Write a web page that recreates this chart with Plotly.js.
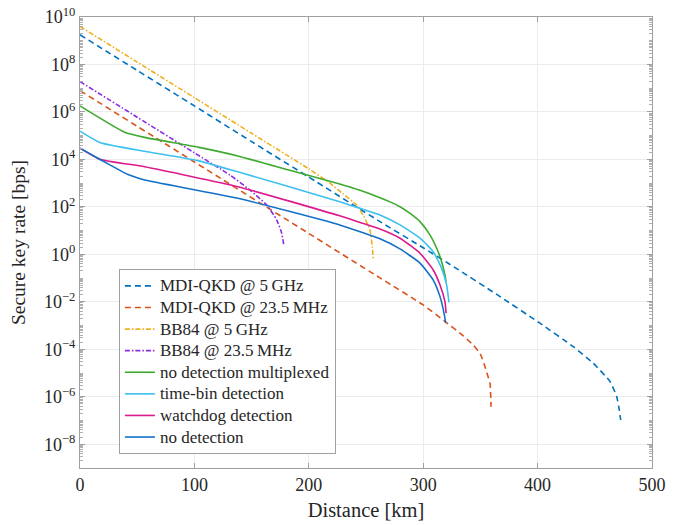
<!DOCTYPE html>
<html>
<head>
<meta charset="utf-8">
<script src="https://cdn.plot.ly/plotly-3.0.1.min.js"></script>
<style>html,body{margin:0;padding:0;background:#fff;}#chart{width:680px;height:525px;}</style>
</head>
<body>
<div id="chart"></div>
<script>
// Distance [km] and secure key rate [bps] for each series
const mdi5gX = [0, 50, 100, 150, 200, 262.2, 300, 329.3, 364, 402, 431.2, 448.7, 463.3, 469.1, 471.4, 472.6];
const mdi5gY = [1.78e9, 5.6e7, 1.8e6, 5.6e4, 1.8e3, 24, 1.9, 0.25, 0.021, 1.26e-3, 1.29e-4, 2.57e-5, 4.4e-6, 1.02e-6, 2.8e-7, 1.05e-7];

const mdi23X = [0, 100, 200, 262.2, 300, 319, 335, 343.8, 350, 354, 357, 358.4, 359.3];
const mdi23Y = [7.9e6, 7.8e3, 7.6, 0.102, 7.4e-3, 1.5e-3, 3.7e-4, 1.5e-4, 6.3e-5, 1.86e-5, 6.3e-6, 3.7e-6, 3.8e-7];

const bb5gX = [0, 50, 100, 150, 200, 218.5, 230, 241.8, 248, 253.5, 255.5, 256.4];
const bb5gY = [4e9, 1.26e8, 4e6, 1.26e5, 4e3, 1e3, 3.5e2, 1.2e2, 4e1, 10.7, 2.1, 0.62];

const bb23X = [0, 50, 100, 131, 148.6, 163.2, 172, 176.3, 178.3];
const bb23Y = [1.9e7, 6e5, 1.9e4, 2.2e3, 5.1e2, 1.2e2, 28, 7.8, 2.2];

const greenX = [0, 39, 56.5, 103, 138, 185, 227, 244.8, 262.2, 271, 279.7, 288.5, 297.2, 305.9, 311.8, 316.1, 319, 320];
const greenY = [1.8e6, 1.4e5, 8.5e4, 3.3e4, 1.4e4, 3.3e3, 9.3e2, 5.0e2, 2.45e2, 1.63e2, 1.02e2, 53, 24, 6.6, 1.82, 0.49, 0.135, 0.066];

const cyanX = [0, 17.2, 56.5, 103, 138, 227, 244.8, 262.2, 279.7, 297.2, 308.8, 316.1, 320.5, 322.5];
const cyanY = [1.55e5, 5.2e4, 2.2e4, 8.9e3, 3.0e3, 1.66e2, 87, 46, 17.4, 4.8, 1.29, 0.257, 0.051, 9.5e-3];

const magX = [0, 17.2, 56.5, 138, 227, 244.8, 262.2, 279.7, 297.2, 308.8, 314.7, 319, 320];
const magY = [3.0e4, 1.02e4, 4.9e3, 7.1e2, 42, 22, 11.7, 4.8, 1.12, 0.22, 0.051, 0.0102, 3.3e-3];

const blueX = [0, 17.2, 24.5, 42, 48, 56.5, 138, 227, 262.2, 279.7, 297.2, 308.8, 314.7, 318.5, 319.6];
const blueY = [3.0e4, 1.02e4, 6.5e3, 2.3e3, 1.8e3, 1.35e3, 2.3e2, 17.4, 4.5, 1.7, 0.43, 0.083, 0.0166, 2.8e-3, 1.26e-3];

const names = ['MDI-QKD @ 5\u2009GHz', 'MDI-QKD @ 23.5\u2009MHz', 'BB84 @ 5\u2009GHz', 'BB84 @ 23.5\u2009MHz',
  'no detection multiplexed', 'time-bin detection', 'watchdog detection', 'no detection'];

const xTicks = [0, 100, 200, 300, 400, 500];
const yTickExp = [-8, -6, -4, -2, 0, 2, 4, 6, 8, 10];

const colors = ['#0072BD', '#D95319', '#EDB120', '#8E2BE0', '#3DAA2E', '#3CC0F0', '#DD1A8C', '#1270C8'];
const dashes = ['6px,4px', '6px,4px', '5px,2px,1.5px,2px', '5px,2px,1.5px,2px', 'solid', 'solid', 'solid', 'solid'];
const xs = [mdi5gX, mdi23X, bb5gX, bb23X, greenX, cyanX, magX, blueX];
const ys = [mdi5gY, mdi23Y, bb5gY, bb23Y, greenY, cyanY, magY, blueY];

const traces = xs.map((x, i) => ({
  x: x, y: ys[i], type: 'scatter', mode: 'lines',
  name: '<span style="font-size:17px">' + names[i] + '</span>',
  line: {color: colors[i], width: 1.6, dash: dashes[i], shape: 'spline', smoothing: 0.5}
}));

const minorVals = [];
for (let e = -9; e < 10; e++) {
  for (let m = 1; m <= 9; m++) {
    if (m === 1 && e % 2 === 0) continue;
    minorVals.push(m * Math.pow(10, e));
  }
}

const font = 'Liberation Serif, Times New Roman, serif';
const layout = {
  width: 680, height: 525,
  margin: {l: 80, r: 28, t: 17, b: 57},
  paper_bgcolor: '#fff', plot_bgcolor: '#fff',
  font: {family: font, color: '#262626', size: 15},
  showlegend: true,
  legend: {
    x: 0.068, y: 0.441, xanchor: 'left', yanchor: 'top',
    bgcolor: '#fff', bordercolor: '#a0a0a0', borderwidth: 1,
    font: {family: font, size: 14.3, color: '#262626'},
    itemwidth: 30, tracegroupgap: 0
  },
  xaxis: {
    range: [0, 500], tickvals: xTicks, ticktext: xTicks.map(String),
    ticks: 'inside', ticklen: 5, tickcolor: '#a0a0a0',
    showline: true, linecolor: '#a0a0a0', linewidth: 1, mirror: 'ticks',
    showgrid: true, gridcolor: '#ebebeb', zeroline: false,
    tickfont: {family: font, size: 18, color: '#262626'},
    title: {text: 'Distance [km]', font: {family: font, size: 20.5, color: '#262626'}, standoff: 9}
  },
  yaxis: {
    type: 'log', range: [-9, 10],
    tickvals: yTickExp.map(e => Math.pow(10, e)),
    ticktext: yTickExp.map(e => '10<sup>' + (e < 0 ? '\u2212' + (-e) : e) + '</sup>'),
    ticks: 'inside', ticklen: 5, tickcolor: '#a0a0a0',
    minor: {tickvals: minorVals, ticks: 'inside', ticklen: 3, tickcolor: '#b0b0b0', showgrid: false},
    showline: true, linecolor: '#a0a0a0', linewidth: 1, mirror: 'ticks',
    showgrid: true, gridcolor: '#ebebeb', zeroline: false,
    tickfont: {family: font, size: 18, color: '#262626'},
    title: {text: 'Secure key rate [bps]', font: {family: font, size: 19.5, color: '#262626'}, standoff: 13}
  }
};

Plotly.newPlot('chart', traces, layout, {staticPlot: true, displayModeBar: false});
</script>
</body>
</html>
